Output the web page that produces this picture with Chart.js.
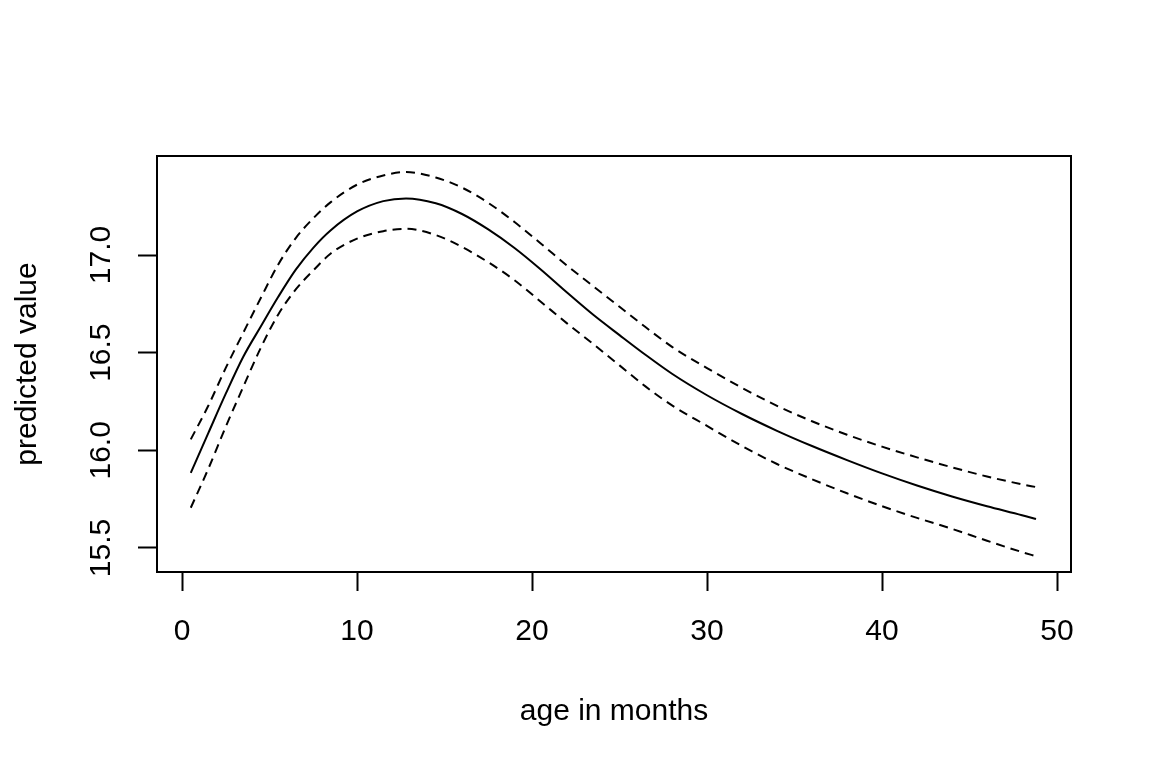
<!DOCTYPE html>
<html>
<head>
<meta charset="utf-8">
<script src="https://cdn.jsdelivr.net/npm/chart.js@4/dist/chart.umd.min.js"></script>
<style>
  html, body { margin: 0; padding: 0; background: #ffffff; }
  #wrap { width: 1152px; height: 768px; }
</style>
</head>
<body>
<div id="wrap"><canvas id="c" width="1152" height="768"></canvas></div>
<script>
// ---- data ----
const ages = [0.5, 1.5, 2.5, 3.5, 4.5, 5.5, 6.5, 7.5, 8.5, 10, 11.5, 12.8, 14.5, 16, 17.5, 19, 20.5, 22, 23.5, 25, 26.5, 28, 30, 32, 34, 36, 38, 40, 42, 44, 46, 48, 48.8];
const fitted = [15.885, 16.088, 16.290, 16.479, 16.634, 16.786, 16.925, 17.037, 17.127, 17.223, 17.276, 17.290, 17.265, 17.210, 17.131, 17.036, 16.926, 16.808, 16.694, 16.590, 16.488, 16.392, 16.282, 16.186, 16.100, 16.022, 15.950, 15.882, 15.820, 15.764, 15.714, 15.668, 15.648];
const upperBand = [16.056, 16.228, 16.422, 16.602, 16.780, 16.952, 17.087, 17.188, 17.271, 17.360, 17.407, 17.425, 17.397, 17.345, 17.267, 17.169, 17.059, 16.946, 16.840, 16.735, 16.630, 16.530, 16.421, 16.320, 16.228, 16.149, 16.080, 16.019, 15.964, 15.913, 15.866, 15.826, 15.812];
const lowerBand = [15.706, 15.905, 16.121, 16.325, 16.525, 16.696, 16.824, 16.921, 17.008, 17.084, 17.122, 17.134, 17.102, 17.041, 16.963, 16.871, 16.761, 16.650, 16.544, 16.435, 16.326, 16.230, 16.125, 16.022, 15.930, 15.852, 15.780, 15.714, 15.654, 15.598, 15.537, 15.479, 15.458];
const xTickValues = [0, 10, 20, 30, 40, 50];
const yTickValues = [15.5, 16.0, 16.5, 17.0];
const xTitle = "age in months";
const yTitle = "predicted value";

const toPoints = (ys) => ages.map((a, i) => ({ x: a, y: ys[i] }));
const FONT = "'Liberation Sans', Arial, sans-serif";

const boxPlugin = {
  id: 'box',
  afterDatasetsDraw(chart) {
    const { ctx, chartArea: a } = chart;
    ctx.save();
    ctx.strokeStyle = '#000';
    ctx.lineWidth = 2;
    ctx.strokeRect(a.left, a.top, a.right - a.left, a.bottom - a.top);
    ctx.restore();
  }
};

const lineStyle = { borderColor: '#000', borderWidth: 2, pointRadius: 0, showLine: true, fill: false, cubicInterpolationMode: 'monotone' };

new Chart(document.getElementById('c'), {
  type: 'scatter',
  data: {
    datasets: [
      Object.assign({ label: 'upper', data: toPoints(upperBand), borderDash: [9, 6] }, lineStyle),
      Object.assign({ label: 'fit', data: toPoints(fitted) }, lineStyle),
      Object.assign({ label: 'lower', data: toPoints(lowerBand), borderDash: [9, 6] }, lineStyle)
    ]
  },
  options: {
    responsive: false,
    animation: false,
    devicePixelRatio: 1,
    layout: { padding: { top: 156, right: 81, left: 0, bottom: 0 } },
    plugins: { legend: { display: false }, tooltip: { enabled: false } },
    scales: {
      x: {
        type: 'linear',
        min: -1.43, max: 50.8,
        afterBuildTicks(s) { s.ticks = xTickValues.map(v => ({ value: v })); },
        afterFit(s) { s.height = 196; },
        grid: { drawOnChartArea: false, drawTicks: true, tickLength: 19, tickColor: '#000', tickWidth: 2 },
        border: { display: true, color: '#000', width: 2 },
        ticks: { color: '#000', font: { family: FONT, size: 30 }, padding: 23, maxRotation: 0, minRotation: 0,
                 callback: (v) => String(v) },
        title: { display: true, text: xTitle, color: '#000', font: { family: FONT, size: 30 }, padding: { top: 0, bottom: 38 } }
      },
      y: {
        type: 'linear',
        min: 15.377, max: 17.507,
        afterBuildTicks(s) { s.ticks = yTickValues.map(v => ({ value: v })); },
        afterFit(s) { s.width = 157; },
        grid: { drawOnChartArea: false, drawTicks: true, tickLength: 19, tickColor: '#000', tickWidth: 2 },
        border: { display: true, color: '#000', width: 2 },
        ticks: { color: '#000', font: { family: FONT, size: 30 }, padding: 7, minRotation: 90, maxRotation: 90, crossAlign: 'center',
                 callback: (v) => Number(v).toFixed(1) },
        title: { display: true, text: yTitle, color: '#000', font: { family: FONT, size: 30 }, padding: { top: 10, bottom: 0 } }
      }
    }
  },
  plugins: [boxPlugin]
});
</script>
</body>
</html>
